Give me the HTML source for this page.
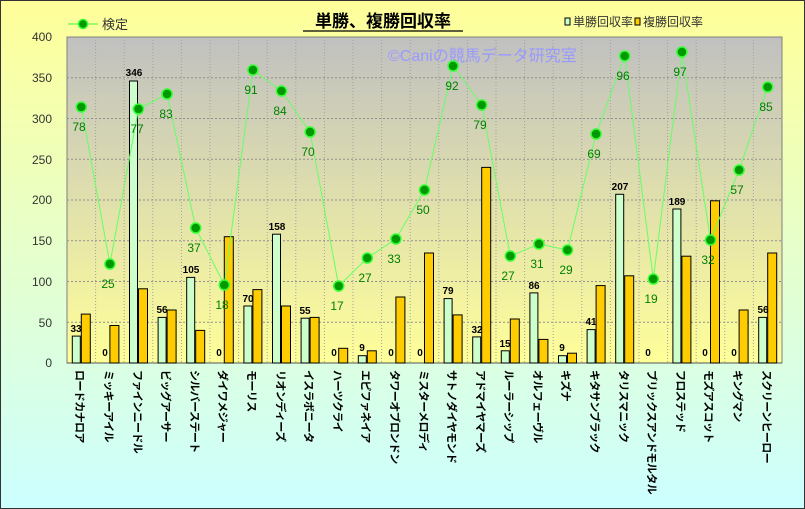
<!DOCTYPE html>
<html><head><meta charset="utf-8"><style>
html,body{margin:0;padding:0;width:805px;height:509px;overflow:hidden}
svg{display:block}
text{font-family:"Liberation Sans","Noto Sans CJK JP",sans-serif}
</style></head><body>
<svg width="805" height="509" xmlns="http://www.w3.org/2000/svg">
<defs>
<linearGradient id="bg" x1="0" y1="0" x2="0" y2="1"><stop offset="0" stop-color="#ffff99"/><stop offset="1" stop-color="#ccffff"/></linearGradient>
<linearGradient id="pa" x1="0" y1="0" x2="0" y2="1"><stop offset="0" stop-color="#c0c0c0"/><stop offset="1" stop-color="#ffff99"/></linearGradient>
</defs>
<rect x="0.5" y="0.5" width="804" height="508" fill="url(#bg)" stroke="#333" stroke-width="1"/>
<rect x="67" y="37" width="715" height="326" fill="url(#pa)" stroke="#808080"/>
<g stroke="#909090" stroke-dasharray="2,2" stroke-width="1">
<line x1="67" y1="77.75" x2="782" y2="77.75"/><line x1="67" y1="118.5" x2="782" y2="118.5"/><line x1="67" y1="159.25" x2="782" y2="159.25"/><line x1="67" y1="200" x2="782" y2="200"/><line x1="67" y1="240.75" x2="782" y2="240.75"/><line x1="67" y1="281.5" x2="782" y2="281.5"/><line x1="67" y1="322.25" x2="782" y2="322.25"/>
</g>
<g stroke="#a0a0a0" stroke-dasharray="1,2" stroke-width="1">
<line x1="95.6" y1="37" x2="95.6" y2="363"/><line x1="124.2" y1="37" x2="124.2" y2="363"/><line x1="152.8" y1="37" x2="152.8" y2="363"/><line x1="181.4" y1="37" x2="181.4" y2="363"/><line x1="210" y1="37" x2="210" y2="363"/><line x1="238.6" y1="37" x2="238.6" y2="363"/><line x1="267.2" y1="37" x2="267.2" y2="363"/><line x1="295.8" y1="37" x2="295.8" y2="363"/><line x1="324.4" y1="37" x2="324.4" y2="363"/><line x1="353" y1="37" x2="353" y2="363"/><line x1="381.6" y1="37" x2="381.6" y2="363"/><line x1="410.2" y1="37" x2="410.2" y2="363"/><line x1="438.8" y1="37" x2="438.8" y2="363"/><line x1="467.4" y1="37" x2="467.4" y2="363"/><line x1="496" y1="37" x2="496" y2="363"/><line x1="524.6" y1="37" x2="524.6" y2="363"/><line x1="553.2" y1="37" x2="553.2" y2="363"/><line x1="581.8" y1="37" x2="581.8" y2="363"/><line x1="610.4" y1="37" x2="610.4" y2="363"/><line x1="639" y1="37" x2="639" y2="363"/><line x1="667.6" y1="37" x2="667.6" y2="363"/><line x1="696.2" y1="37" x2="696.2" y2="363"/><line x1="724.8" y1="37" x2="724.8" y2="363"/><line x1="753.4" y1="37" x2="753.4" y2="363"/>
</g>
<line x1="67" y1="363" x2="782" y2="363" stroke="#555"/>
<g font-size="12" fill="#333" text-anchor="end">
<text x="52" y="41">400</text><text x="52" y="82">350</text><text x="52" y="123">300</text><text x="52" y="164">250</text><text x="52" y="204">200</text><text x="52" y="245">150</text><text x="52" y="286">100</text><text x="52" y="327">50</text><text x="52" y="367">0</text>
</g>
<text x="388" y="61" font-size="16" fill="#9999ff">©Caniの競馬データ研究室</text>
<g fill="#ccffcc" stroke="#000" stroke-width="1">
<rect x="72.3" y="336.1" width="8" height="26.9"/>
<rect x="129.5" y="81" width="8" height="282"/>
<rect x="158.1" y="317.4" width="8" height="45.6"/>
<rect x="186.7" y="277.4" width="8" height="85.6"/>
<rect x="243.9" y="306" width="8" height="57"/>
<rect x="272.5" y="234.2" width="8" height="128.8"/>
<rect x="301.1" y="318.2" width="8" height="44.8"/>
<rect x="358.3" y="355.7" width="8" height="7.3"/>
<rect x="444.1" y="298.6" width="8" height="64.4"/>
<rect x="472.7" y="336.9" width="8" height="26.1"/>
<rect x="501.3" y="350.8" width="8" height="12.2"/>
<rect x="529.9" y="292.9" width="8" height="70.1"/>
<rect x="558.5" y="355.7" width="8" height="7.3"/>
<rect x="587.1" y="329.6" width="8" height="33.4"/>
<rect x="615.7" y="194.3" width="8" height="168.7"/>
<rect x="672.9" y="209" width="8" height="154"/>
<rect x="758.7" y="317.4" width="8" height="45.6"/>
</g>
<g fill="#ffcc00" stroke="#000" stroke-width="1">
<rect x="81.3" y="314.1" width="9" height="48.9"/>
<rect x="109.9" y="325.5" width="9" height="37.5"/>
<rect x="138.5" y="288.8" width="9" height="74.2"/>
<rect x="167.1" y="310" width="9" height="53"/>
<rect x="195.7" y="330.4" width="9" height="32.6"/>
<rect x="224.3" y="236.7" width="9" height="126.3"/>
<rect x="252.9" y="289.6" width="9" height="73.4"/>
<rect x="281.5" y="306" width="9" height="57"/>
<rect x="310.1" y="317.4" width="9" height="45.6"/>
<rect x="338.7" y="348.3" width="9" height="14.7"/>
<rect x="367.3" y="350.8" width="9" height="12.2"/>
<rect x="395.9" y="297" width="9" height="66"/>
<rect x="424.5" y="253" width="9" height="110"/>
<rect x="453.1" y="314.9" width="9" height="48.1"/>
<rect x="481.7" y="167.4" width="9" height="195.6"/>
<rect x="510.3" y="319" width="9" height="44"/>
<rect x="538.9" y="339.4" width="9" height="23.6"/>
<rect x="567.5" y="353.2" width="9" height="9.8"/>
<rect x="596.1" y="285.6" width="9" height="77.4"/>
<rect x="624.7" y="275.8" width="9" height="87.2"/>
<rect x="681.9" y="256.2" width="9" height="106.8"/>
<rect x="710.5" y="200.8" width="9" height="162.2"/>
<rect x="739.1" y="310" width="9" height="53"/>
<rect x="767.7" y="253" width="9" height="110"/>
</g>
<g font-size="10" font-weight="bold" fill="#000" text-anchor="middle">
<text x="76" y="332">33</text><text x="105" y="356">0</text><text x="134" y="76">346</text><text x="162" y="313">56</text><text x="191" y="273">105</text><text x="219" y="356">0</text><text x="248" y="302">70</text><text x="277" y="230">158</text><text x="305" y="314">55</text><text x="334" y="356">0</text><text x="362" y="351">9</text><text x="391" y="356">0</text><text x="420" y="356">0</text><text x="448" y="294">79</text><text x="477" y="333">32</text><text x="505" y="347">15</text><text x="534" y="289">86</text><text x="562" y="351">9</text><text x="591" y="325">41</text><text x="620" y="190">207</text><text x="648" y="356">0</text><text x="677" y="205">189</text><text x="705" y="356">0</text><text x="734" y="356">0</text><text x="763" y="313">56</text>
</g>
<polyline fill="none" stroke="#66ff66" stroke-width="1" points="81.3,107 109.9,264 138.5,109 167.1,94 195.7,228 224.3,285 252.9,70 281.5,91 310.1,132 338.7,286 367.3,258 395.9,239 424.5,190 453.1,66 481.7,105 510.3,256 538.9,244 567.5,250 596.1,134 624.7,56 653.3,279 681.9,52 710.5,240 739.1,170 767.7,87"/>
<g fill="#009900" stroke="#33ff33" stroke-width="1.5">
<circle cx="81.3" cy="107" r="5"/><circle cx="109.9" cy="264" r="5"/><circle cx="138.5" cy="109" r="5"/><circle cx="167.1" cy="94" r="5"/><circle cx="195.7" cy="228" r="5"/><circle cx="224.3" cy="285" r="5"/><circle cx="252.9" cy="70" r="5"/><circle cx="281.5" cy="91" r="5"/><circle cx="310.1" cy="132" r="5"/><circle cx="338.7" cy="286" r="5"/><circle cx="367.3" cy="258" r="5"/><circle cx="395.9" cy="239" r="5"/><circle cx="424.5" cy="190" r="5"/><circle cx="453.1" cy="66" r="5"/><circle cx="481.7" cy="105" r="5"/><circle cx="510.3" cy="256" r="5"/><circle cx="538.9" cy="244" r="5"/><circle cx="567.5" cy="250" r="5"/><circle cx="596.1" cy="134" r="5"/><circle cx="624.7" cy="56" r="5"/><circle cx="653.3" cy="279" r="5"/><circle cx="681.9" cy="52" r="5"/><circle cx="710.5" cy="240" r="5"/><circle cx="739.1" cy="170" r="5"/><circle cx="767.7" cy="87" r="5"/>
</g>
<g font-size="12" fill="#008000" text-anchor="middle">
<text x="79" y="131">78</text><text x="108" y="288">25</text><text x="137" y="133">77</text><text x="166" y="118">83</text><text x="194" y="252">37</text><text x="222" y="309">18</text><text x="251" y="94">91</text><text x="280" y="115">84</text><text x="308" y="156">70</text><text x="337" y="310">17</text><text x="365" y="282">27</text><text x="394" y="263">33</text><text x="423" y="214">50</text><text x="452" y="90">92</text><text x="480" y="129">79</text><text x="508" y="280">27</text><text x="537" y="268">31</text><text x="566" y="274">29</text><text x="594" y="158">69</text><text x="623" y="80">96</text><text x="651" y="303">19</text><text x="680" y="76">97</text><text x="708" y="264">32</text><text x="737" y="194">57</text><text x="766" y="111">85</text>
</g>
<g font-size="11" font-weight="bold" fill="#000" letter-spacing="-0.6">
<text transform="translate(76,370) rotate(90)">ロードカナロア</text>
<text transform="translate(105,370) rotate(90)">ミッキーアイル</text>
<text transform="translate(134,370) rotate(90)">ファインニードル</text>
<text transform="translate(162,370) rotate(90)">ビッグアーサー</text>
<text transform="translate(191,370) rotate(90)">シルバーステート</text>
<text transform="translate(219,370) rotate(90)">ダイワメジャー</text>
<text transform="translate(248,370) rotate(90)">モーリス</text>
<text transform="translate(277,370) rotate(90)">リオンディーズ</text>
<text transform="translate(305,370) rotate(90)">イスラボニータ</text>
<text transform="translate(334,370) rotate(90)">ハーツクライ</text>
<text transform="translate(362,370) rotate(90)">エピファネイア</text>
<text transform="translate(391,370) rotate(90)">タワーオブロンドン</text>
<text transform="translate(420,370) rotate(90)">ミスターメロディ</text>
<text transform="translate(448,370) rotate(90)">サトノダイヤモンド</text>
<text transform="translate(477,370) rotate(90)">アドマイヤマーズ</text>
<text transform="translate(505,370) rotate(90)">ルーラーシップ</text>
<text transform="translate(534,370) rotate(90)">オルフェーヴル</text>
<text transform="translate(562,370) rotate(90)">キズナ</text>
<text transform="translate(591,370) rotate(90)">キタサンブラック</text>
<text transform="translate(620,370) rotate(90)">タリスマニック</text>
<text transform="translate(648,370) rotate(90)">ブリックスアンドモルタル</text>
<text transform="translate(677,370) rotate(90)">フロステッド</text>
<text transform="translate(705,370) rotate(90)">モズアスコット</text>
<text transform="translate(734,370) rotate(90)">キングマン</text>
<text transform="translate(763,370) rotate(90)">スクリーンヒーロー</text>
</g>
<text x="383" y="27" font-size="17" font-weight="bold" text-anchor="middle" fill="#000">単勝、複勝回収率</text>
<line x1="303" y1="31" x2="463" y2="31" stroke="#000" stroke-width="1.2"/>
<line x1="68" y1="24" x2="98" y2="24" stroke="#33ff33"/>
<circle cx="83" cy="24" r="4.5" fill="#009900" stroke="#33ff33" stroke-width="1.5"/>
<text x="102" y="29" font-size="13" fill="#333">検定</text>
<rect x="565" y="18" width="5" height="7" fill="#ccffcc" stroke="#000"/>
<text x="573" y="26" font-size="12" fill="#333">単勝回収率</text>
<rect x="635" y="18" width="5" height="7" fill="#ffcc00" stroke="#000"/>
<text x="643" y="26" font-size="12" fill="#333">複勝回収率</text>
</svg>
</body></html>
